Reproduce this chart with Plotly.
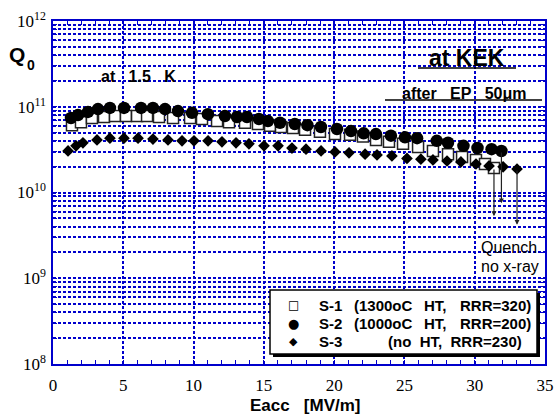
import numpy as np
import plotly.graph_objects as go

# ---------------- data ----------------
s1_x = [1.35, 1.99, 2.77, 3.63, 4.41, 5.19, 5.98, 6.69, 7.54, 8.54, 9.75, 10.6, 11.67, 12.52,
        13.66, 14.58, 15.44, 16.22, 17.07, 17.93, 18.99, 20.06, 21.13, 22.05, 22.98, 23.9,
        24.9, 25.97, 27.03, 28.1, 29.1, 30.09, 30.73, 31.37]
s1_q = [6.1e10, 6.6e10, 7.4e10, 7.6e10, 7.8e10, 7.8e10, 7.8e10, 7.8e10, 7.6e10, 7.4e10,
        7.4e10, 7.2e10, 6.8e10, 6.6e10, 6.5e10, 6.3e10, 6.0e10, 5.8e10, 5.65e10, 5.4e10,
        5.1e10, 4.8e10, 4.7e10, 4.5e10, 4.1e10, 3.9e10, 3.7e10, 3.4e10, 3.05e10, 2.8e10,
        2.6e10, 2.4e10, 2.15e10, 1.93e10]

s2_x = [1.28, 1.78, 2.49, 3.2, 4.05, 5.05, 6.26, 7.11, 7.97, 8.89, 9.89, 11.02, 12.23, 13.09,
        13.8, 14.65, 15.29, 16.15, 17.2, 18.1, 19.06, 20.2, 21.2, 22.1, 22.97, 24.04, 25.04,
        25.9, 27.3, 28.1, 29.2, 30.2, 31.2, 31.9]
s2_q = [7.4e10, 8.0e10, 8.7e10, 9.4e10, 9.7e10, 9.7e10, 9.7e10, 9.7e10, 9.4e10, 8.9e10,
        8.5e10, 8.2e10, 7.8e10, 7.6e10, 7.6e10, 7.2e10, 6.8e10, 6.5e10, 6.3e10, 6.1e10,
        5.8e10, 5.5e10, 5.2e10, 4.9e10, 4.8e10, 4.6e10, 4.4e10, 4.3e10, 4.0e10, 3.8e10,
        3.5e10, 3.3e10, 3.2e10, 3.05e10]

s3_x = [1.07, 1.64, 2.13, 3.13, 4.05, 5.05, 6.05, 7.11, 8.18, 9.18, 10.03, 11.03, 12.02, 13.02,
        13.94, 15.01, 16.01, 17.0, 18.0, 19.07, 20.06, 21.06, 22.2, 23.05, 24.11, 25.18,
        26.17, 27.03, 28.03, 29.02, 30.09, 31.02, 32.02, 33.01]
s3_q = [3.05e10, 3.5e10, 3.8e10, 4.1e10, 4.3e10, 4.3e10, 4.3e10, 4.2e10, 4.1e10, 4.0e10,
        4.0e10, 4.0e10, 3.9e10, 3.8e10, 3.7e10, 3.5e10, 3.5e10, 3.3e10, 3.2e10, 3.05e10,
        2.97e10, 2.9e10, 2.8e10, 2.74e10, 2.67e10, 2.5e10, 2.45e10, 2.4e10, 2.33e10,
        2.27e10, 2.15e10, 2.04e10, 1.99e10, 1.88e10]

# quench arrows: (Eacc, Q at start, Q at arrow tip)
quench_x = [31.37, 31.9, 33.01]
quench_top = [1.93e10, 3.05e10, 1.88e10]
quench_tip = [5.3e9, 7.5e9, 4.2e9]

# legend texts (split into columns as in the original)
legend_keys = ["\u25a1", "\u25cf", "\u25c6"]
legend_rows = [
    ["S-1", "(1300oC", "HT,", "RRR=320)"],
    ["S-2", "(1000oC", "HT,", "RRR=200)"],
]
legend_row3 = ["S-3", "(no\u00a0\u00a0HT,\u00a0\u00a0RRR=230)"]

x_ticks = [0, 5, 10, 15, 20, 25, 30, 35]
decades = [8, 9, 10, 11, 12]

# ---------------- figure ----------------
W, H = 554, 416
L, R, T, B = 53, 9, 21, 52
PW, PH = W - L - R, H - T - B
BLUE = "#0000cc"
SANS = "Liberation Sans, Arial, sans-serif"
SERIF = "Liberation Serif, Times New Roman, serif"
NB = "\u00a0"


def px(xp):
    return (xp - L) / PW


def py(yp):
    return (T + PH - yp) / PH


fig = go.Figure()
fig.add_trace(go.Scatter(x=s1_x, y=s1_q, mode="markers", showlegend=False,
                         marker=dict(symbol="square", size=11, color="white",
                                     line=dict(color="#222222", width=1.5))))
fig.add_trace(go.Scatter(x=s2_x, y=s2_q, mode="markers", showlegend=False,
                         marker=dict(symbol="circle", size=12.5, color="black",
                                     line=dict(width=0))))
fig.add_trace(go.Scatter(x=s3_x, y=s3_q, mode="markers", showlegend=False,
                         marker=dict(symbol="diamond", size=9, color="black",
                                     line=dict(width=0))))

# y ticks at every minor position (grid lines), labels only at decades
yvals, ytext = [], []
for d in decades:
    for k in range(1, 10):
        if d == 12 and k > 1:
            break
        yvals.append(k * 10.0 ** d)
        ytext.append(f"10<sup>{d}</sup>" if k == 1 else "")

xaxis = dict(range=[0, 35], tickvals=x_ticks, showgrid=True, gridcolor=BLUE,
             griddash="3px,2px", gridwidth=1.5, showline=True, linecolor=BLUE,
             linewidth=1.5, mirror="allticks", ticks="inside", ticklen=4,
             tickcolor=BLUE, zeroline=False, automargin=False,
             minor=dict(dtick=1, ticks="inside", ticklen=4, tickcolor=BLUE,
                        showgrid=False),
             tickfont=dict(family=SERIF, size=17, color="black"),
             ticklabelstandoff=5)
yaxis = dict(type="log", range=[8, 12], tickvals=yvals, ticktext=ytext,
             showgrid=True, gridcolor=BLUE, griddash="3px,2px", gridwidth=1.5,
             showline=True, linecolor=BLUE, linewidth=1.5, mirror="allticks",
             ticks="inside", ticklen=4, tickcolor=BLUE, zeroline=False,
             automargin=False,
             tickfont=dict(family=SERIF, size=17, color="black"),
             ticklabelstandoff=2)

ann = []


def text(xp, yp, s, size, bold=False, xa="center", ya="middle", family=SANS):
    ann.append(dict(xref="paper", yref="paper", x=px(xp), y=py(yp),
                    xanchor=xa, yanchor=ya, showarrow=False,
                    text=f"<b>{s}</b>" if bold else s,
                    font=dict(family=family, size=size, color="black")))


text(305, 405, "Eacc" + NB * 3 + "[MV/m]", 17, bold=True)
text(17, 54, "Q", 21, bold=True)
text(31, 65, "0", 14, bold=True)
text(138, 77, "at" + NB * 3 + "1.5" + NB * 3 + "K", 16, bold=True)
text(467, 58, "at KEK", 23, bold=True)
text(464, 93, "after" + NB * 3 + "EP" + NB * 3 + "50\u03bcm", 16, bold=True)
text(479, 247, "Quench", 16, xa="left")
text(479, 266, "no x-ray", 16, xa="left")

# legend
key_y = [305, 323, 341]
key_size = [12, 13, 11]
for k, yk, ks in zip(legend_keys, key_y, key_size):
    text(293, yk, k, ks, family="DejaVu Sans")
col_x = [317, 352, 422, 458]
for row, yrow in zip(legend_rows, key_y[:2]):
    for s, cx in zip(row, col_x):
        text(cx, yrow, s, 15, bold=True, xa="left")
text(317, key_y[2], legend_row3[0], 15, bold=True, xa="left")
text(524, key_y[2], legend_row3[1], 15, bold=True, xa="right")

for qx, qt, qb in zip(quench_x, quench_top, quench_tip):
    ann.append(dict(x=qx, y=np.log10(qb), ax=qx, ay=np.log10(qt), xref="x", yref="y",
                    axref="x", ayref="y", text="", showarrow=True, arrowhead=2,
                    arrowsize=0.8, arrowwidth=1.2, arrowcolor="#222222"))

shapes = [
    dict(type="line", xref="paper", yref="paper", x0=px(418), x1=px(516), y0=py(68),
         y1=py(68), line=dict(color="black", width=1.5)),
    dict(type="line", xref="paper", yref="paper", x0=px(385), x1=px(542), y0=py(100),
         y1=py(100), line=dict(color="black", width=1.5)),
    # legend shadow and box
    dict(type="rect", xref="paper", yref="paper", x0=px(273), x1=px(540), y0=py(357),
         y1=py(293), line=dict(width=0), fillcolor="black", layer="above"),
    dict(type="rect", xref="paper", yref="paper", x0=px(270), x1=px(537), y0=py(354),
         y1=py(290), line=dict(width=1.5, color="black"), fillcolor="white",
         layer="above"),
]

fig.update_layout(
    width=W, height=H, margin=dict(l=L, r=R, t=T, b=B),
    plot_bgcolor="white", paper_bgcolor="white",
    annotations=ann, shapes=shapes, showlegend=False,
    xaxis=xaxis, yaxis=yaxis,
    font=dict(family=SANS),
)

fig.write_html("out.html", config={"displayModeBar": False},
               post_script="document.body.style.margin='0';document.body.style.padding='0';")
